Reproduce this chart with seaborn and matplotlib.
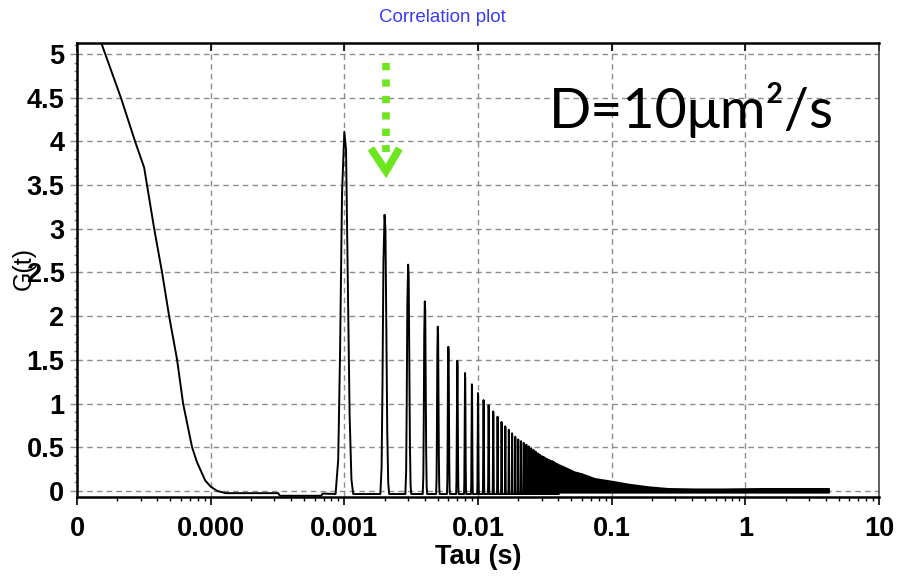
import numpy as np
import pandas as pd
import matplotlib
matplotlib.use("Agg")
import matplotlib.pyplot as plt
import seaborn as sns
from matplotlib.ticker import FixedLocator, FixedFormatter, LogLocator, MultipleLocator, NullFormatter

# ---------------- data ----------------
# fast initial decay
decay_tau = [1.50e-5, 2.13e-5, 2.72e-5, 3.18e-5, 3.78e-5, 4.33e-5, 4.89e-5,
             5.61e-5, 6.22e-5, 7.26e-5, 7.9e-5, 9.1e-5, 1.0e-4, 1.12e-4, 1.3e-4]
decay_g = [5.15, 4.5, 4.0, 3.7, 3.0, 2.5, 2.0, 1.5, 1.0, 0.5, 0.33, 0.12, 0.05, 0.0, -0.025]

# flat baseline before the first scan peak
baseline_tau = [3.2e-4, 3.3e-4, 6.7e-4, 6.9e-4, 8.5e-4]
baseline_g = [-0.025, -0.055, -0.055, -0.03, -0.035]

# periodic peaks every 1 ms (peak number, height)
peak_period_s = 1e-3
peak_n = list(range(1, 41))
peak_heights = [4.11, 3.16, 2.59, 2.17, 1.88, 1.65, 1.49, 1.35, 1.22, 1.12,
                1.04, 0.98, 0.91, 0.85, 0.79, 0.74, 0.70, 0.66, 0.62, 0.59,
                0.57, 0.55, 0.53, 0.51, 0.49, 0.47, 0.45, 0.43, 0.415, 0.40,
                0.39, 0.375, 0.365, 0.355, 0.345, 0.34, 0.33, 0.32, 0.31, 0.30]
peak_base = -0.035
# sampled shape of one peak (offset in units of the period, fraction of height)
profile_offset = [-0.140, -0.100, -0.071, -0.039, 0.0, 0.030, 0.060, 0.095, 0.130, 0.165]
profile_rel = [0.0, 0.095, 0.39, 0.83, 1.0, 0.95, 0.61, 0.22, 0.04, 0.0]

# dense tail (peaks merge into a filled band)
env_tau = [0.0405, 0.0420, 0.0526, 0.0593, 0.0741, 0.0995, 0.133, 0.187,
           0.264, 0.417, 0.66, 1.32, 2.63, 4.2]
env_g = [0.30, 0.29, 0.22, 0.20, 0.145, 0.114, 0.08, 0.05,
         0.03, 0.025, 0.025, 0.03, 0.03, 0.03]
env_low = -0.015

xtick_pos = [1e-5, 1e-4, 1e-3, 1e-2, 1e-1, 1, 10]
xtick_lab = ["0", "0.000", "0.001", "0.01", "0.1", "1", "10"]

# ---------------- build curve ----------------
tau_all = list(decay_tau) + list(baseline_tau)
g_all = list(decay_g) + list(baseline_g)
for n, h in zip(peak_n, peak_heights):
    for off, r in zip(profile_offset, profile_rel):
        tau_all.append((n + off) * peak_period_s)
        g_all.append(peak_base + r * (h - peak_base))
df = pd.DataFrame({"tau": tau_all, "G": g_all})

# ---------------- figure ----------------
sns.set_style("white")
plt.rcParams["font.family"] = ["Liberation Sans", "DejaVu Sans"]
plt.rcParams["text.color"] = "black"
plt.rcParams["axes.labelcolor"] = "black"
plt.rcParams["xtick.labelcolor"] = "black"
plt.rcParams["ytick.labelcolor"] = "black"

fig = plt.figure(figsize=(8.97, 5.78), dpi=100)
ax = fig.add_axes([77 / 897, 1 - 497 / 578, 802 / 897, 454 / 578])

ax.set_xscale("log")
ax.set_xlim(1e-5, 10)
ax.set_ylim(-0.069, 5.126)

grid_kw = dict(color="#8c8c8c", lw=1.0, ls=(0, (4, 3)), zorder=0)
for xv in xtick_pos[1:-1]:
    ax.axvline(xv, **grid_kw)
for yv in np.arange(0, 5.01, 0.5):
    ax.axhline(yv, **grid_kw)

sns.lineplot(data=df, x="tau", y="G", sort=False, estimator=None,
             color="black", lw=1.4, ax=ax, zorder=3)
ax.fill_between(env_tau, env_low, env_g, color="black", lw=1.2, zorder=3)

# green arrow
green = "#6ce61e"
ax.plot([2.06e-3, 2.06e-3], [4.90, 3.88], color=green, lw=5.5,
        ls=(0, (0.95, 1.2)), solid_capstyle="butt", dash_capstyle="butt", zorder=5)
ax.plot([1.58e-3, 2.05e-3, 2.58e-3], [3.92, 3.66, 3.92], color=green, lw=5.5,
        solid_joinstyle="miter", solid_capstyle="butt", zorder=5)

ax.text(0.588, 0.813, "D=10μm²/s", transform=ax.transAxes, fontsize=40,
        family=["Lato", "DejaVu Sans"], ha="left", va="baseline", color="black")

# ticks
ax.xaxis.set_major_locator(FixedLocator(xtick_pos))
ax.xaxis.set_major_formatter(FixedFormatter(xtick_lab))
ax.xaxis.set_minor_locator(LogLocator(base=10, subs=np.arange(2, 10), numticks=20))
ax.xaxis.set_minor_formatter(NullFormatter())
ax.yaxis.set_major_locator(MultipleLocator(0.5))
ax.yaxis.set_minor_locator(MultipleLocator(0.1))
ax.yaxis.set_major_formatter(matplotlib.ticker.FuncFormatter(lambda v, p: f"{v:g}"))

ax.tick_params(axis="x", which="major", direction="out", length=6, width=1.2,
               color="black", bottom=True, top=True, labelsize=19.5, pad=8,
               labelcolor="black")
ax.tick_params(axis="x", which="minor", direction="out", length=3, width=1.0,
               color="black", bottom=True, top=False)
ax.tick_params(axis="y", which="major", direction="out", length=5, width=1.0,
               color="#8c8c8c", left=True, labelsize=19.5, pad=4, labelcolor="black")
ax.tick_params(axis="y", which="minor", direction="out", length=2.2, width=1.0,
               color="#8c8c8c", left=True)
for lab in ax.get_xticklabels() + ax.get_yticklabels():
    lab.set_fontweight("bold")
# top ticks point inward
for t in ax.xaxis.get_major_ticks():
    t.tick2line.set_marker(matplotlib.lines.TICKDOWN)

for side in ["left", "bottom", "top"]:
    ax.spines[side].set_visible(True)
    ax.spines[side].set_color("black")
    ax.spines[side].set_linewidth(1.8)
ax.spines["right"].set_visible(True)
ax.spines["right"].set_color("#444444")
ax.spines["right"].set_linewidth(1.2)

ax.set_xlabel("Tau (s)", fontsize=19.5, fontweight="bold", va="center", color="black")
ax.xaxis.set_label_coords(0.5, -0.132)
ax.set_ylabel("G(t)", fontsize=18, va="center", ha="center", color="black")
ax.yaxis.set_label_coords(-0.066, 0.504)

ax.set_title("Correlation plot", fontsize=13.5, color="#3b3bf5",
             x=0.456, y=1.057, va="center", pad=0)

fig.savefig("out.png", dpi=100)
